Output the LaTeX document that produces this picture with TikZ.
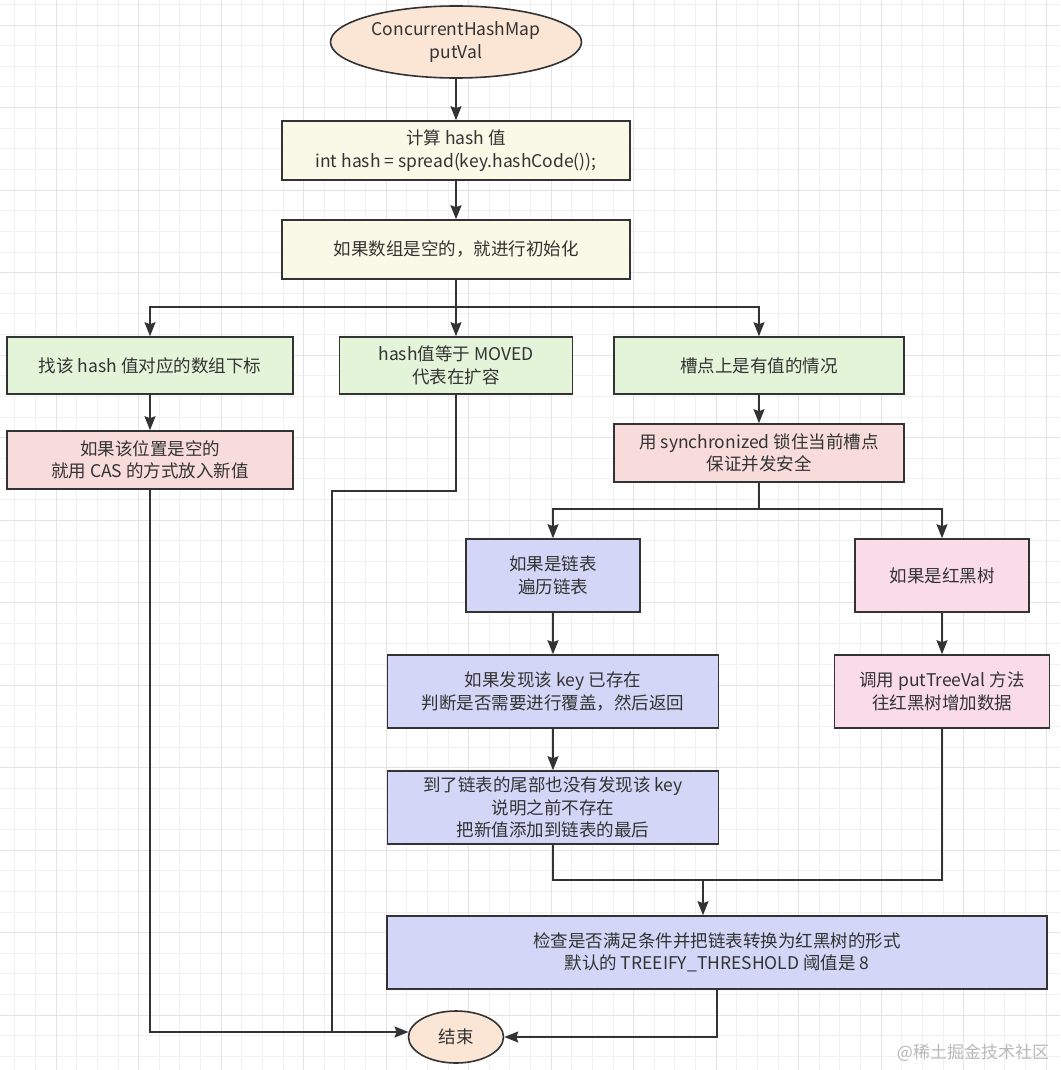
\documentclass[tikz,border=0pt]{standalone}
\usepackage{fontspec}
\setmainfont{Noto Sans CJK SC}
\usepackage{xcolor}
\usepackage{tikz}
\usetikzlibrary{positioning, calc, shapes.geometric, arrows.meta}
\definecolor{inkgray}{HTML}{333333}
\definecolor{peach}{HTML}{FBE6D6}
\definecolor{cream}{HTML}{FAF8E6}
\definecolor{mint}{HTML}{E4F4D8}
\definecolor{rose}{HTML}{F8DCDC}
\definecolor{lavender}{HTML}{D3D6F7}
\definecolor{blush}{HTML}{FADCE9}
\definecolor{gridminor}{HTML}{F1F1F1}
\definecolor{gridmajor}{HTML}{E4E4E4}

\begin{document}
\begin{tikzpicture}[x=1pt, y=-1pt,
    box/.style={draw=inkgray, line width=1.6pt, align=center, inner sep=0pt, text=inkgray, font=\fontsize{17.5}{22.5}\selectfont},
    sz/.style 2 args={minimum width=#1pt, minimum height=#2pt},
    oval/.style={box, ellipse},
    link/.style={draw=inkgray, line width=1.6pt},
    arrow/.style={link, -{Stealth[length=14pt, width=11pt, inset=2pt]}},
  ]
  \useasboundingbox (0,0) rectangle (1060,1070);
  % grid paper
  \fill[white] (0,0) rectangle (1060,1070);
  \foreach \i in {0,...,52} {
    \draw[gridminor, line width=0.8pt] ({14.8+20.625*\i},0) -- ({14.8+20.625*\i},1070);
    \draw[gridminor, line width=0.8pt] (0,{4.4+20.625*\i}) -- (1060,{4.4+20.625*\i});
  }
  \foreach \i in {0,...,12} {
    \draw[gridmajor, line width=0.9pt] ({56+82.5*\i},0) -- ({56+82.5*\i},1070);
    \draw[gridmajor, line width=0.9pt] (0,{25+82.5*\i}) -- (1060,{25+82.5*\i});
  }

  % nodes
  \node[oval, fill=peach, sz={251}{72}] (start) at (456,42) {ConcurrentHashMap\\putVal};
  \node[box, fill=cream, sz={348}{59}] (hash) at (456,150.5) {计算 hash 值\\int hash = spread(key.hashCode());};
  \node[box, fill=cream, sz={348}{59}] (init) at (456,249.5) {如果数组是空的，就进行初始化};
  \node[box, fill=mint, sz={286}{57}] (find) at (150,365.5) {找该 hash 值对应的数组下标};
  \node[box, fill=mint, sz={233}{57}] (moved) at (456,365.5) {hash值等于 MOVED\\代表在扩容};
  \node[box, fill=mint, sz={290}{57}] (slot) at (759,365.5) {槽点上是有值的情况};
  \node[box, fill=rose, sz={286}{58}] (cas) at (150,460) {如果该位置是空的\\就用 CAS 的方式放入新值};
  \node[box, fill=rose, sz={290}{58}] (lock) at (759,453) {用 synchronized 锁住当前槽点\\保证并发安全};
  \node[box, fill=lavender, sz={174}{73}] (list) at (553,575.5) {如果是链表\\遍历链表};
  \node[box, fill=blush, sz={174}{73}] (tree) at (942,575.5) {如果是红黑树};
  \node[box, fill=lavender, sz={331}{73}] (exist) at (553,691.5) {如果发现该 key 已存在\\判断是否需要进行覆盖，然后返回};
  \node[box, fill=blush, sz={215}{73}] (puttree) at (942,691.5) {调用 putTreeVal 方法\\往红黑树增加数据};
  \node[box, fill=lavender, sz={331}{73}] (tail) at (553,807.5) {到了链表的尾部也没有发现该 key\\说明之前不存在\\把新值添加到链表的最后};
  \node[box, fill=lavender, sz={660}{73}] (check) at (717,952.5) {检查是否满足条件并把链表转换为红黑树的形式\\默认的 TREEIFY\_THRESHOLD 阈值是 8};
  \node[oval, fill=peach, sz={95}{52}] (finish) at (456,1037) {结束};
  \node[font=\fontsize{17}{20}\selectfont, text=black!28] (mark) at (973,1053) {@稀土掘金技术社区};

  % bend points
  \coordinate (split1) at (456,307);
  \coordinate (split2) at (759,509);
  \coordinate (merge) at (703,880);
  \coordinate (mvbend) at (332,491);

  % connectors
  \draw[arrow] (start) -- (hash);
  \draw[arrow] (hash) -- (init);
  \draw[link] (init.south) -- (split1);
  \foreach \n in {find, moved, slot}
    \draw[arrow] (split1) -| (\n);
  \draw[arrow] (find) -- (cas);
  \draw[arrow] (slot) -- (lock);
  \draw[link] (lock.south) -- (split2);
  \foreach \n in {list, tree}
    \draw[arrow] (split2) -| (\n);
  \draw[arrow] (list) -- (exist);
  \draw[arrow] (exist) -- (tail);
  \draw[arrow] (tree) -- (puttree);
  \draw[link] (tail.south) |- (merge) -| (puttree.south);
  \draw[arrow] (merge) -- (merge |- check.north);
  \draw[arrow] (cas.south) |- (finish.174);
  \draw[link] (moved.south) |- (mvbend) -- (mvbend |- finish.174);
  \draw[arrow] (check.south) |- (finish.east);
\end{tikzpicture}
\end{document}
